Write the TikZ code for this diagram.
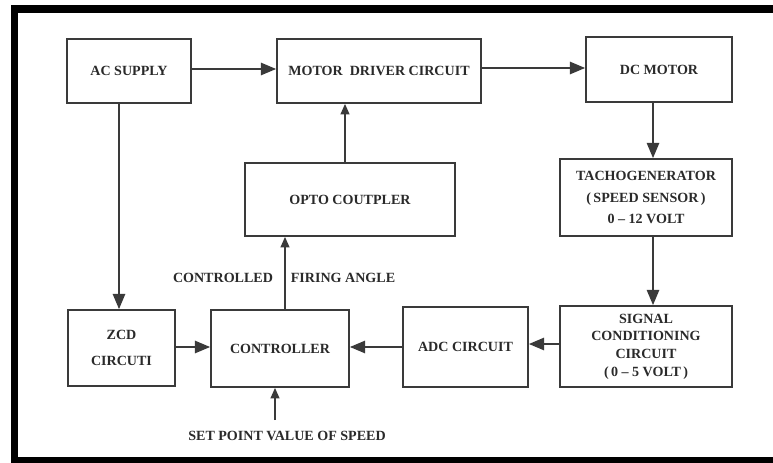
\documentclass[tikz,border=0pt]{standalone}
\usepackage{fontspec}
\setmainfont{Liberation Serif}
\usetikzlibrary{arrows.meta,positioning,calc}
\definecolor{blokline}{HTML}{3A3A3A}
\definecolor{bloktext}{HTML}{2A2A2A}

\begin{document}
\begin{tikzpicture}[x=0.25mm, y=-0.25mm,
  every node/.style={font=\bfseries\fontsize{10}{12}\selectfont, text=bloktext},
  blok/.style={draw=blokline, line width=0.45mm, align=center, inner sep=0pt},
  pijl/.style={-{Triangle[length=3.8mm, width=3.1mm]}, line width=0.38mm, blokline},
  kpijl/.style={-{Triangle[length=2.6mm, width=2.2mm]}, line width=0.38mm, blokline},
  lbl/.style={inner sep=0pt}
]
\useasboundingbox (0,0) rectangle (773,463);
% frame
\draw[line width=1.9mm, black, line join=miter] (780,9) -- (14.5,9) -- (14.5,461) -- (780,461);
% blocks
\node[blok, minimum width=31mm, minimum height=16mm] (acsupply) at (129,71) {AC SUPPLY};
\node[blok, minimum width=51mm, minimum height=16mm] (driver) at (379,71) {MOTOR\ \ DRIVER CIRCUIT};
\node[blok, minimum width=36.5mm, minimum height=16.25mm] (dcmotor) at (659,69.5) {DC MOTOR};
\node[blok, minimum width=43mm, minimum height=19.25mm] (tacho) at (646,197.5) {TACHOGENERATOR\\[3pt](\,SPEED SENSOR\,)\\[3pt]0 -- 12 VOLT};
\node[blok, minimum width=52.5mm, minimum height=18.25mm] (opto) at (350,199.5) {OPTO COUTPLER};
\node[blok, minimum width=26.75mm, minimum height=19mm] (zcd) at (121.5,348) {ZCD\\[6pt]CIRCUTI};
\node[blok, minimum width=34.5mm, minimum height=19.25mm] (ctrl) at (280,348.5) {CONTROLLER};
\node[blok, minimum width=31.25mm, minimum height=20mm] (adc) at (465.5,347) {ADC CIRCUIT};
\node[blok, minimum width=43mm, minimum height=20.25mm] (signal) at (646,346.5) {SIGNAL\\[0.5pt]CONDITIONING\\[0.5pt]CIRCUIT\\[0.5pt](\,0 -- 5 VOLT\,)};
% labels
\node[lbl] (contr) at (223,278) {CONTROLLED};
\node[lbl] (firing) at (343,278) {FIRING ANGLE};
\node[lbl] (setpoint) at (287,436) {SET POINT VALUE OF SPEED};
\coordinate (spstart) at (275,420);
% connections
\draw[pijl] (acsupply.east |- 0,69) -- (driver.west |- 0,69);
\draw[pijl] (driver.east |- 0,68) -- (dcmotor.west |- 0,68);
\draw[pijl] ($(dcmotor.south)+(-6,0)$) -- ($(tacho.north)+(7,0)$);
\draw[pijl] ($(tacho.south)+(7,0)$) -- ($(signal.north)+(7,0)$);
\draw[pijl] (signal.west |- 0,344) -- (adc.east |- 0,344);
\draw[pijl] (adc.west |- 0,347) -- (ctrl.east |- 0,347);
\draw[pijl] (zcd.east |- 0,347) -- (ctrl.west |- 0,347);
\draw[pijl] ($(acsupply.south)+(-10,0)$) -- ($(zcd.north)+(-2.5,0)$);
\draw[kpijl] ($(ctrl.north)+(5,0)$) -- ($(opto.south)+(-65,0)$);
\draw[kpijl] ($(opto.north)+(-5,0)$) -- ($(driver.south)+(-34,0)$);
\draw[kpijl] (spstart) -- (spstart |- ctrl.south);
\end{tikzpicture}
\end{document}
